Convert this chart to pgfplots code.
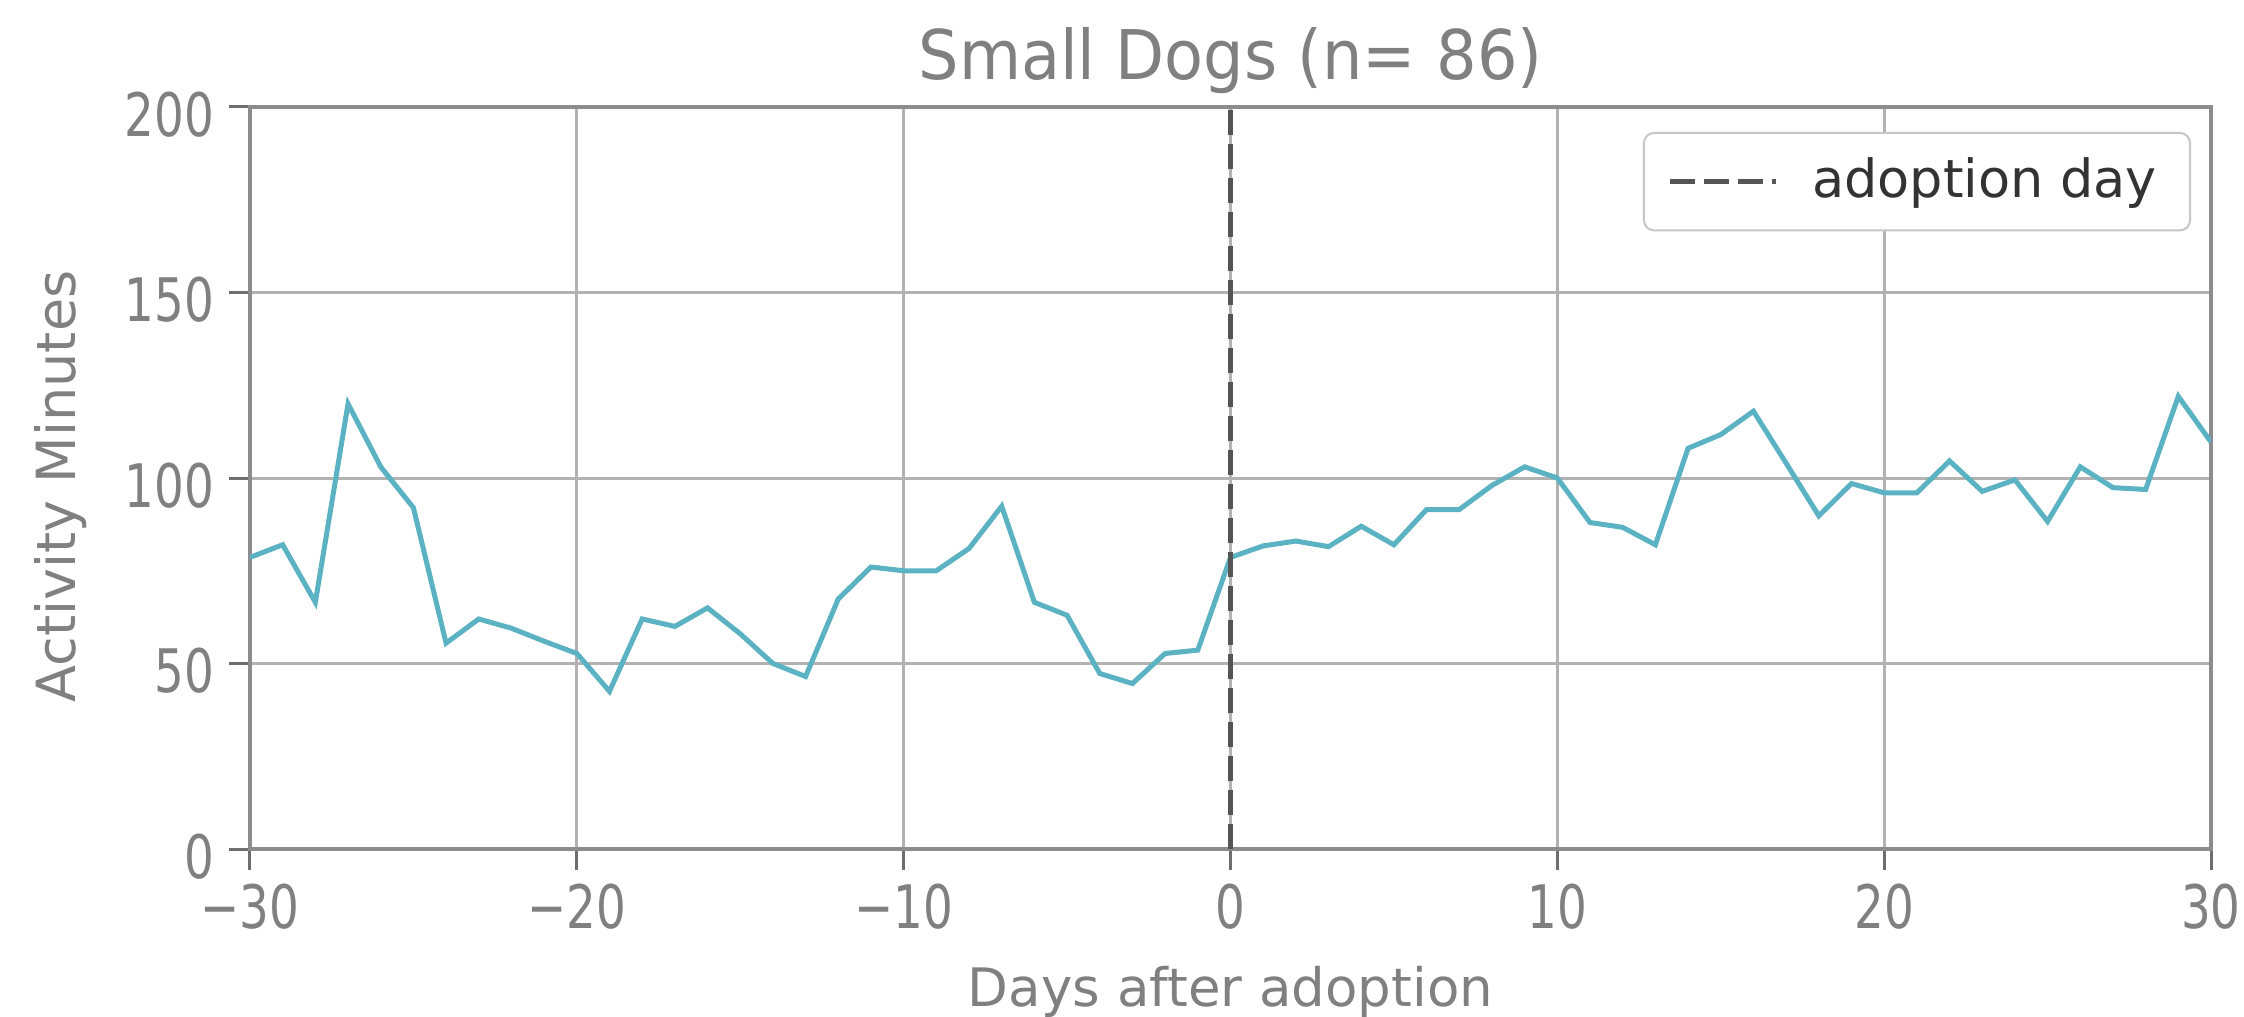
\documentclass[border=0pt]{standalone}
\usepackage{pgfplots}
\pgfplotsset{compat=1.18}
\usepackage{fontspec}
\setmainfont{DejaVu Sans}
\newfontfamily\tickfont{DejaVu Sans}[FakeStretch=0.78]
\newfontfamily\titlefont{DejaVu Sans}[FakeStretch=0.93]
\definecolor{linecol}{RGB}{90,178,194}
\definecolor{txtgray}{RGB}{128,128,128}
\definecolor{gridgray}{RGB}{178,178,178}
\definecolor{framegray}{RGB}{140,140,140}
\definecolor{tickgray}{RGB}{110,110,110}
\definecolor{vlinecol}{RGB}{85,85,85}
\begin{document}
\begin{tikzpicture}
\useasboundingbox (-50pt,-33.4pt) rectangle (398.8pt,169.8pt);
\begin{axis}[
  at={(0pt,0pt)}, anchor=south west,
  scale only axis, width=392.2pt, height=148.4pt,
  xmin=-30, xmax=30, ymin=0, ymax=200,
  xtick={-30,-20,-10,0,10,20,30},
  xticklabels={−30,−20,−10,0,10,20,30},
  ytick={0,50,100,150,200},
  yticklabels={0,50,100,150,200},
  xtick pos=lower, ytick pos=left,
  tick align=outside, major tick length=4.2pt,
  tick style={tickgray, line width=0.6pt},
  axis line style={framegray, line width=0.8pt},
  grid=major, major grid style={gridgray, line width=0.6pt},
  xticklabel style={font=\tickfont\fontsize{12}{14}\selectfont, text=txtgray, anchor=base, yshift=-11.6pt},
  yticklabel style={font=\tickfont\fontsize{12}{14}\selectfont, text=txtgray, anchor=east, inner xsep=0pt, xshift=-2.8pt, yshift=-1.5pt},
  every axis title shift=0pt,
  title={Small Dogs (n= 86)},
  title style={font=\titlefont\fontsize{13.7}{16}\selectfont, text=txtgray, at={(axis description cs:0.5,1.0364)}, anchor=base},
  xlabel={Days after adoption},
  xlabel style={font=\fontsize{10.6}{12}\selectfont, text=txtgray, at={(axis description cs:0.5,-0.2120)}, anchor=base},
  ylabel={Activity Minutes},
  ylabel style={font=\fontsize{10.8}{12}\selectfont, text=txtgray, at={(axis description cs:-0.0968,0.4885)}, anchor=center},
  legend style={at={(rel axis cs:1,1)}, anchor=north east, xshift=-4pt, yshift=-5pt,
    draw=gray!45, rounded corners=2pt, fill=white, text=black!80,
    font=\fontsize{10.5}{12}\selectfont, inner xsep=4.6pt, inner ysep=3pt},
  legend image code/.code={\draw[#1] (0pt,0pt) -- (21.2pt,0pt); \path[draw=none] (0pt,0pt) -- (26.5pt,0pt);},
  legend cell align=left,
]
\addplot[linecol, line width=1pt, forget plot] coordinates {
(-30,78.6) (-29,82) (-28,66.5) (-27,120) (-26,103) (-25,92) (-24,55.5) (-23,62) (-22,59.5) (-21,56)
(-20,52.7) (-19,42.5) (-18,62) (-17,60) (-16,65) (-15,58) (-14,50) (-13,46.5) (-12,67.4) (-11,76)
(-10,75) (-9,75) (-8,81) (-7,92.4) (-6,66.5) (-5,63) (-4,47.3) (-3,44.6) (-2,52.7) (-1,53.6)
(0,78.6) (1,81.7) (2,83) (3,81.5) (4,87) (5,82) (6,91.5) (7,91.5) (8,98) (9,103)
(10,100) (11,88) (12,86.7) (13,82) (14,108) (15,111.7) (16,118) (17,104) (18,89.8) (19,98.5)
(20,96) (21,96) (22,104.6) (23,96.4) (24,99.5) (25,88.3) (26,103) (27,97.4) (28,96.9) (29,122)
(30,109.7)
};
\addplot[vlinecol, line width=1.1pt, dash pattern=on 5pt off 1.8pt] coordinates {(0,0) (0,200)};
\addlegendentry{adoption day}
\end{axis}
\end{tikzpicture}
\end{document}
